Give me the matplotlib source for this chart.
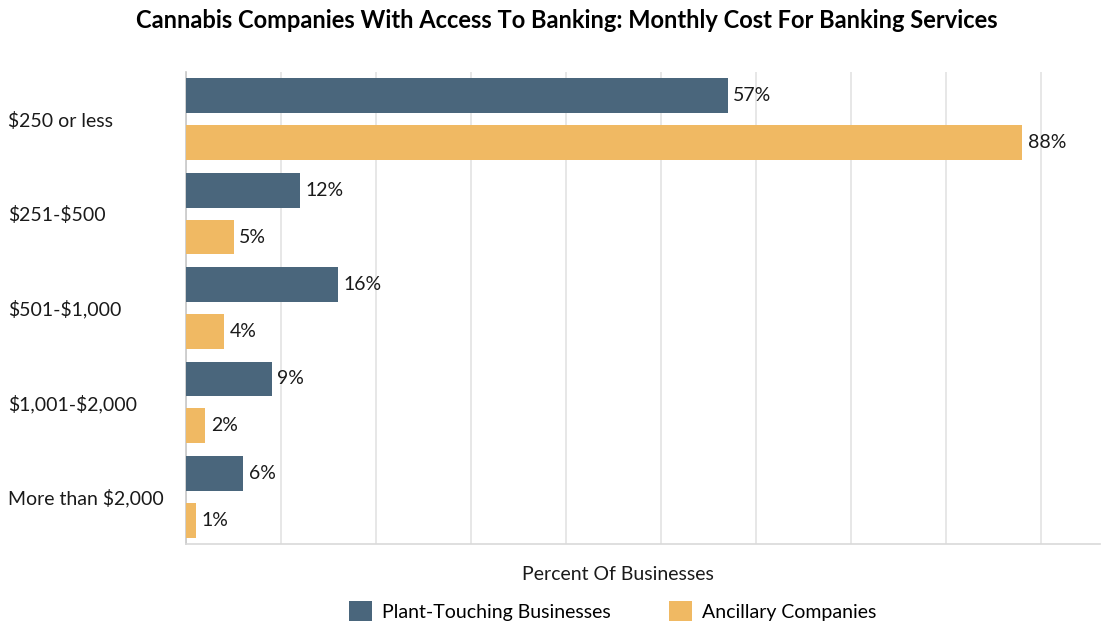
import matplotlib
matplotlib.use("Agg")
import matplotlib.pyplot as plt
import numpy as np
from matplotlib.patches import Patch

plt.rcParams['font.family'] = ['Lato', 'DejaVu Sans']

# cost brackets, top to bottom
categories = ['$250 or less', '$251-$500', '$501-$1,000', '$1,001-$2,000', 'More than $2,000']
plant_touching = [57, 12, 16, 9, 6]
ancillary = [88, 5, 4, 2, 1]
series_names = ['Plant-Touching Businesses', 'Ancillary Companies']

blue = '#4a667c'
orange = '#f0b963'
fs = 14

fig = plt.figure(figsize=(11.02, 6.24), dpi=100)
ax = fig.add_axes([186 / 1102, 1 - 544 / 624, (1100 - 186) / 1102, (544 - 72) / 624])

y = np.arange(len(categories))
h = 0.37
off = 0.248

ax.barh(y - off, plant_touching, height=h, color=blue, zorder=3)
ax.barh(y + off, ancillary, height=h, color=orange, zorder=3)

for yi, v in zip(y - off, plant_touching):
    ax.text(v + 0.6, yi, f'{v}%', va='center', ha='left', fontsize=fs, color='#1a1a1a')
for yi, v in zip(y + off, ancillary):
    ax.text(v + 0.6, yi, f'{v}%', va='center', ha='left', fontsize=fs, color='#1a1a1a')

ax.set_xlim(0, 96.2)
ax.set_ylim(len(categories) - 0.5, -0.5)
ax.set_xticks(np.arange(0, 100, 10))
ax.set_xticklabels([])
ax.tick_params(axis='x', length=0)
ax.tick_params(axis='y', length=0, pad=0)
ax.set_yticks(y)
# '$' in the bracket names must not switch on mathtext
ax.set_yticklabels(categories, fontsize=fs, color='#1a1a1a', ha='left', parse_math=False)
for lbl in ax.get_yticklabels():
    lbl.set_x(-178 / 914)
ax.grid(axis='x', color='#e3e3e3', linewidth=1.2, zorder=0)
for s in ['top', 'right']:
    ax.spines[s].set_visible(False)
ax.spines['left'].set_color('#c8c8c8')
ax.spines['left'].set_linewidth(1.2)
ax.spines['bottom'].set_color('#d9d9d9')
ax.spines['bottom'].set_linewidth(1.2)

ax.set_xlabel('Percent Of Businesses', fontsize=fs, color='#1a1a1a')
ax.xaxis.set_label_coords((618 - 186) / 914, -22 / 472)

fig.suptitle('Cannabis Companies With Access To Banking: Monthly Cost For Banking Services',
             fontsize=17, fontweight='bold', y=1 - 20 / 624, va='center', x=567 / 1102)

handles = [Patch(facecolor=blue), Patch(facecolor=orange)]
fig.legend(handles, series_names, loc='center', bbox_to_anchor=(613 / 1102, 1 - 611 / 624),
           ncol=2, frameon=False, fontsize=fs, handlelength=1.15, handleheight=1.15,
           columnspacing=3.0, handletextpad=0.55)

fig.savefig('out.png', dpi=100)
